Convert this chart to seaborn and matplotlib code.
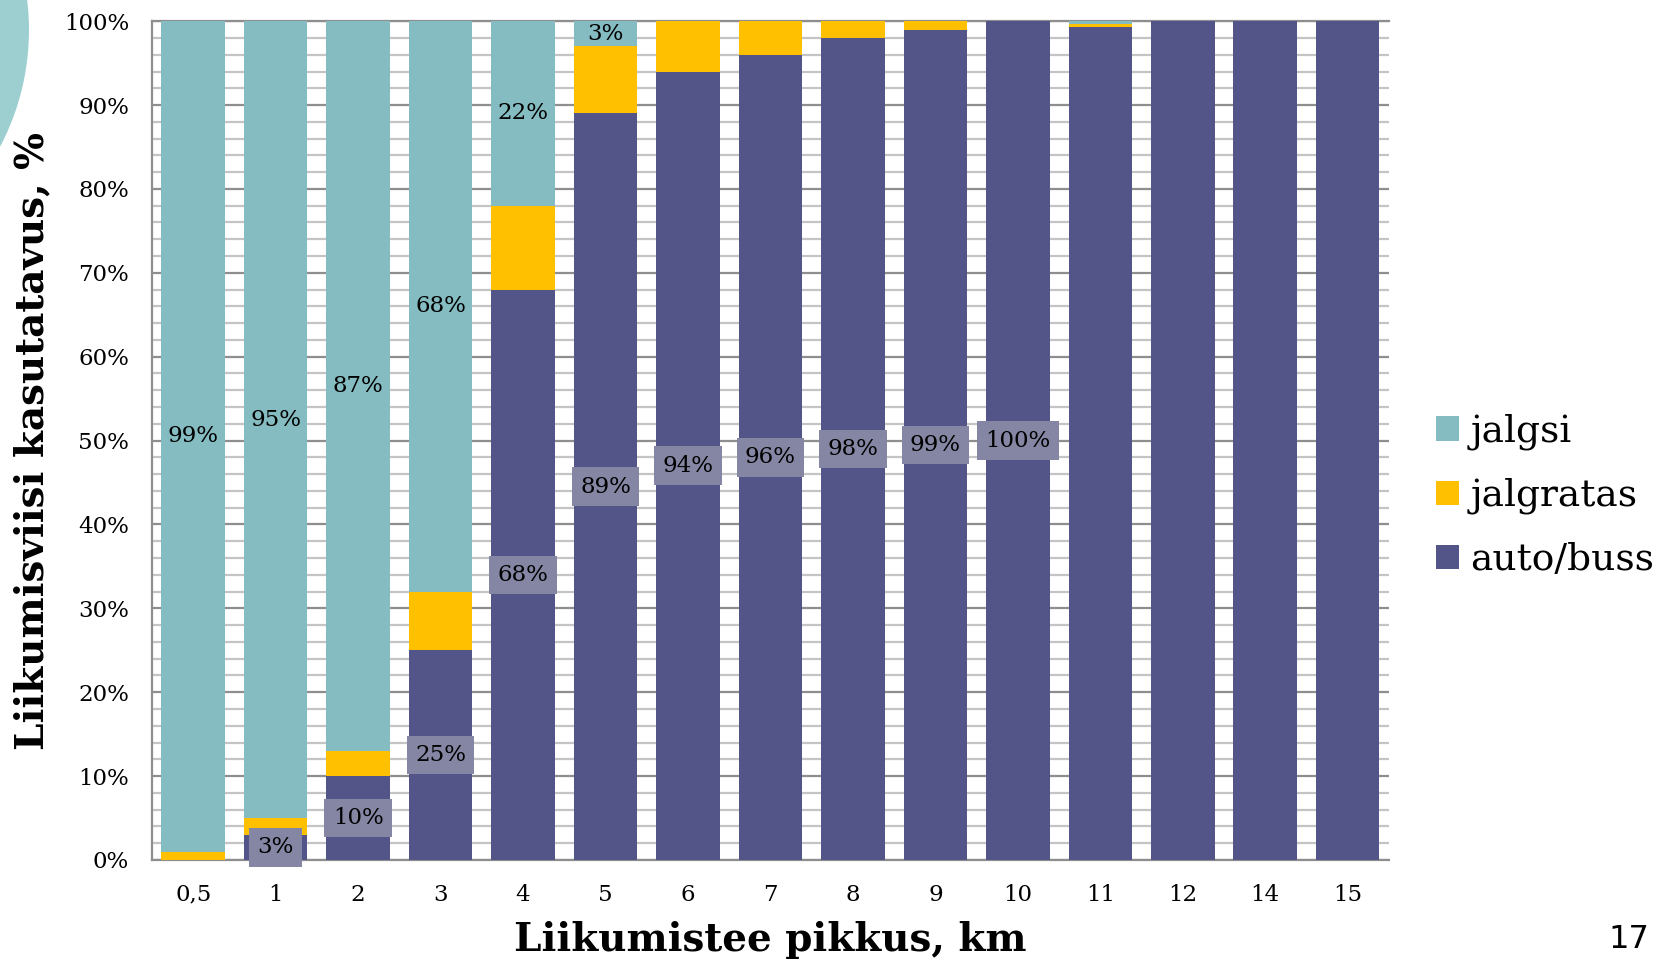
import matplotlib
matplotlib.use("Agg")
import matplotlib.pyplot as plt
import numpy as np
import pandas as pd
import seaborn as sns
from matplotlib.patches import Patch, Circle
from matplotlib.ticker import MultipleLocator, FuncFormatter

# Trip length categories (km) and modal shares (%)
distances = ["0,5", "1", "2", "3", "4", "5", "6", "7", "8", "9", "10", "11", "12", "14", "15"]
auto_buss = [0, 3, 10, 25, 68, 89, 94, 96, 98, 99, 100, 99.3, 100, 100, 100]
jalgratas = [1, 2, 3, 7, 10, 8, 6, 4, 2, 1, 0, 0.4, 0, 0, 0]
jalgsi = [99, 95, 87, 68, 22, 3, 0, 0, 0, 0, 0, 0.3, 0, 0, 0]

# Categories whose segments carry a value label
jalgsi_labelled = ["0,5", "1", "2", "3", "4", "5"]
auto_labelled = ["1", "2", "3", "4", "5", "6", "7", "8", "9", "10"]

series_names = ["jalgsi", "jalgratas", "auto/buss"]

C_WALK = "#84bcc1"
C_BIKE = "#ffc000"
C_CAR = "#535488"
C_BOX = "#8486a3"
C_MAJOR = "#8e8e8e"
C_MINOR = "#c4c4c4"

df = pd.DataFrame({
    "dist": distances,
    "auto": auto_buss,
    "bike": jalgratas,
    "walk": jalgsi,
})
df["auto_bike"] = df["auto"] + df["bike"]
df["total"] = df["auto_bike"] + df["walk"]

sns.set_style("white")
plt.rcParams["font.family"] = ["DejaVu Serif"]
plt.rcParams["text.color"] = "black"
plt.rcParams["axes.labelcolor"] = "black"
plt.rcParams["xtick.labelcolor"] = "black"
plt.rcParams["ytick.labelcolor"] = "black"

fig = plt.figure(figsize=(16.59, 9.63), dpi=100)
ax = fig.add_axes([0.0916, 0.107, 0.7456, 0.871])

# decorative disc in the upper-left corner
fig.add_artist(Circle((-2.21, 9.33), 2.50, transform=fig.dpi_scale_trans,
                      facecolor="#9dcfd0", edgecolor="none", zorder=0))

bar_kw = dict(x="dist", order=distances, width=0.77, saturation=1,
              edgecolor="none", ax=ax, zorder=3)
sns.barplot(data=df, y="total", color=C_WALK, **bar_kw)
sns.barplot(data=df, y="auto_bike", color=C_BIKE, **bar_kw)
sns.barplot(data=df, y="auto", color=C_CAR, **bar_kw)

# value labels
for i, row in df.iterrows():
    if row["dist"] in jalgsi_labelled:
        ax.text(i, row["auto_bike"] + row["walk"] / 2, f"{row['walk']:.0f}%",
                ha="center", va="center", fontsize=16.5, color="black", zorder=5)
    if row["dist"] in auto_labelled:
        ax.text(i, row["auto"] / 2, f"{row['auto']:.0f}%",
                ha="center", va="center", fontsize=16.5, color="black", zorder=5,
                bbox=dict(boxstyle="square,pad=0.36", facecolor=C_BOX, edgecolor="none"))

ax.set_xlim(-0.5, len(distances) - 0.5)
ax.set_ylim(0, 100)
ax.yaxis.set_major_locator(MultipleLocator(10))
ax.yaxis.set_minor_locator(MultipleLocator(2))
ax.yaxis.set_major_formatter(FuncFormatter(lambda v, p: f"{v:.0f}%"))

ax.set_axisbelow(True)
ax.grid(which="major", axis="y", color=C_MAJOR, lw=1.6, zorder=0)
ax.grid(which="minor", axis="y", color=C_MINOR, lw=1.6, zorder=0)
ax.grid(which="both", axis="x", visible=False)

ax.tick_params(axis="y", which="major", direction="out", length=8, width=1.6,
               color=C_MAJOR, pad=8.5, labelsize=16.5, labelcolor="black")
ax.tick_params(axis="y", which="minor", direction="out", length=8, width=1.6,
               color=C_MINOR)
ax.tick_params(axis="x", length=0, pad=17, labelsize=16.5, labelcolor="black")

for side in ["left", "bottom", "top"]:
    ax.spines[side].set_color(C_MAJOR)
    ax.spines[side].set_linewidth(1.6)
ax.spines["right"].set_visible(False)

ax.set_xlabel("Liikumistee pikkus, km", fontsize=28, fontweight="bold", color="black")
ax.set_ylabel("Liikumisviisi kasutatavus, %", fontsize=28, fontweight="bold", color="black")
ax.xaxis.set_label_coords(0.5, -0.073)
ax.yaxis.set_label_coords(-0.081, 0.5)

handles = [Patch(facecolor=c, edgecolor="none", label=n)
           for c, n in zip([C_WALK, C_BIKE, C_CAR], series_names)]
leg = ax.legend(handles=handles, loc="center left", bbox_to_anchor=(1.038, 0.434),
                frameon=False, fontsize=27, handlelength=0.62, handleheight=0.62,
                handletextpad=0.3, labelspacing=0.74, borderaxespad=0, borderpad=0)
for t in leg.get_texts():
    t.set_color("black")

fig.text(1629 / 1659, 1 - 939 / 963, "17", ha="center", va="center",
         fontsize=23, family="DejaVu Sans", color="black")

fig.savefig("out.png", dpi=100)
